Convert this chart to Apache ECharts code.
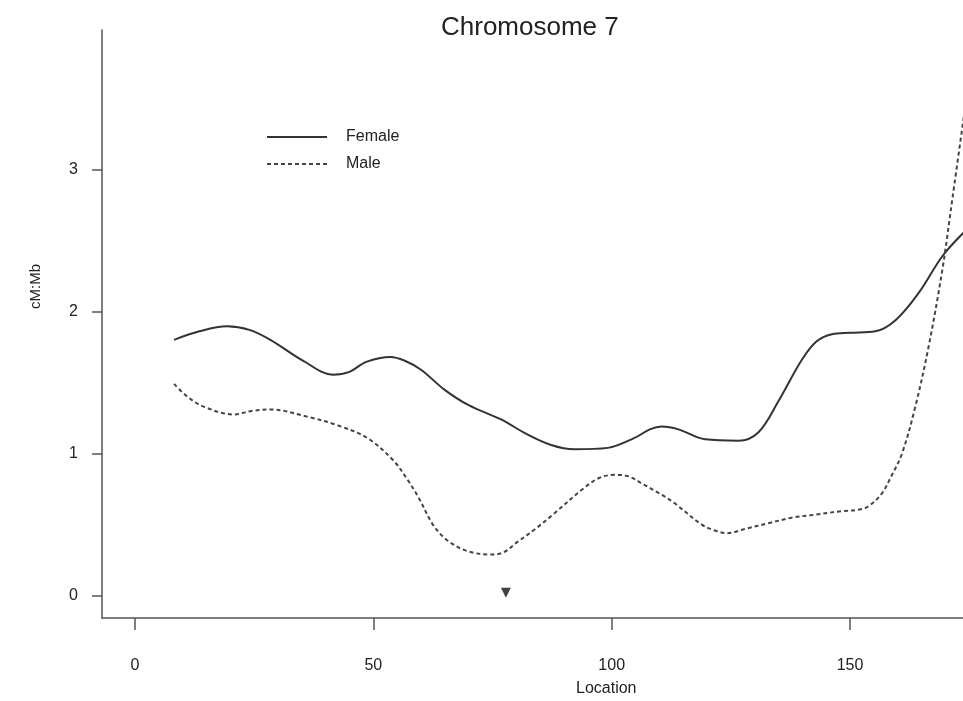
<!DOCTYPE html>
<html>
<head>
<meta charset="utf-8">
<title>Chromosome 7</title>
<script src="https://cdn.jsdelivr.net/npm/echarts@6/dist/echarts.min.js"></script>
<style>
  html, body { margin: 0; padding: 0; background: #fff; }
  #chart { width: 963px; height: 701px; }
</style>
</head>
<body>
<div id="chart"></div>
<script>
// data
var femaleLoc = [8.2, 13.5, 19.3, 24, 28.4, 35.4, 41.5, 45, 48.5, 53.6, 56.5, 60, 64.9, 70, 76.8, 82, 87.3, 92.2, 99.2, 104.8, 108, 110.5, 114, 119.6, 126.6, 130.8, 135, 139.9, 143, 146.2, 150, 155.3, 159.6, 164.4, 169.4, 174];
var femaleVal = [1.80, 1.86, 1.895, 1.87, 1.80, 1.65, 1.555, 1.575, 1.645, 1.68, 1.655, 1.59, 1.45, 1.34, 1.24, 1.14, 1.06, 1.03, 1.04, 1.11, 1.17, 1.19, 1.17, 1.10, 1.09, 1.15, 1.37, 1.66, 1.79, 1.84, 1.85, 1.86, 1.94, 2.13, 2.39, 2.56];
var maleLoc = [8.2, 11, 14.4, 20.7, 24.5, 28.4, 36.1, 42.4, 48.7, 54.1, 57.1, 59.5, 62.5, 65.5, 69.6, 74.3, 77, 80.3, 84, 87.3, 94.3, 97.5, 100.6, 103.5, 106.3, 110.5, 113.2, 118.9, 121.5, 124.1, 128, 132.9, 138, 142.7, 148.3, 151.8, 153.9, 156.7, 158.5, 160.9, 163.7, 166.5, 169.4, 171.5, 174];
var maleVal = [1.49, 1.40, 1.33, 1.275, 1.30, 1.31, 1.26, 1.20, 1.11, 0.955, 0.82, 0.69, 0.50, 0.39, 0.315, 0.29, 0.30, 0.38, 0.47, 0.56, 0.76, 0.83, 0.85, 0.84, 0.79, 0.71, 0.65, 0.50, 0.46, 0.44, 0.47, 0.51, 0.55, 0.57, 0.595, 0.605, 0.63, 0.72, 0.83, 1.00, 1.33, 1.755, 2.30, 2.80, 3.40];
var markerPoint = [[77.8, 0.02]];
var xTicks = [0, 50, 100, 150];
var yTicks = [0, 1, 2, 3];

function pairs(xs, ys) {
  var out = [];
  for (var i = 0; i < xs.length; i++) out.push([xs[i], ys[i]]);
  return out;
}

var font = "'Liberation Sans', Arial, sans-serif";
var axisColor = "#555";

var myChart = echarts.init(document.getElementById("chart"));
myChart.setOption({
  backgroundColor: "#fff",
  animation: false,
  title: {
    text: "Chromosome 7",
    left: 436,
    top: 10,
    textStyle: { fontFamily: font, fontSize: 26, fontWeight: "normal", color: "#222" }
  },
  legend: {
    orient: "vertical",
    left: 261,
    top: 124,
    itemWidth: 60,
    itemHeight: 14,
    itemGap: 11,
    data: ["Female", "Male"],
    itemStyle: { opacity: 0 },
    textStyle: { fontFamily: font, fontSize: 16, color: "#222", padding: [0, 0, 0, 14] }
  },
  grid: { left: 102, right: 0, top: 30, bottom: 83 },
  xAxis: {
    type: "value",
    min: -6.92,
    max: 173.7,
    splitLine: { show: false },
    axisLine: { show: true, onZero: false, lineStyle: { color: axisColor, width: 1.5 } },
    axisTick: { show: true, length: 12, customValues: xTicks, lineStyle: { color: axisColor, width: 1.5 } },
    axisLabel: { customValues: xTicks, margin: 40, fontFamily: font, fontSize: 16, color: "#222" }
  },
  yAxis: {
    type: "value",
    min: -0.157,
    max: 3.98,
    splitLine: { show: false },
    axisLine: { show: true, onZero: false, lineStyle: { color: axisColor, width: 1.5 } },
    axisTick: { show: true, length: 10, customValues: yTicks, lineStyle: { color: axisColor, width: 1.5 } },
    axisLabel: { customValues: yTicks, margin: 24, fontFamily: font, fontSize: 16, color: "#222" }
  },
  graphic: [
    {
      type: "text",
      left: 606 - 30,
      top: 681,
      style: { text: "Location", fontFamily: font, fontSize: 16, fill: "#222" }
    },
    {
      type: "text",
      x: 28,
      y: 309,
      rotation: Math.PI / 2,
      style: { text: "cM:Mb", fontFamily: font, fontSize: 15, fill: "#222" }
    }
  ],
  series: [
    {
      name: "Female",
      type: "line",
      data: pairs(femaleLoc, femaleVal),
      showSymbol: false,
      symbol: "none",
      smooth: 0.35,
      clip: true,
      color: "#333",
      lineStyle: { color: "#333", width: 2 }
    },
    {
      name: "Male",
      type: "line",
      data: pairs(maleLoc, maleVal),
      showSymbol: false,
      symbol: "none",
      smooth: 0.35,
      clip: true,
      color: "#444",
      lineStyle: { color: "#444", width: 2, type: [4, 3] }
    },
    {
      name: "marker",
      type: "scatter",
      data: markerPoint,
      symbol: "triangle",
      symbolRotate: 180,
      symbolSize: 10,
      itemStyle: { color: "#111" }
    }
  ]
});
</script>
</body>
</html>
